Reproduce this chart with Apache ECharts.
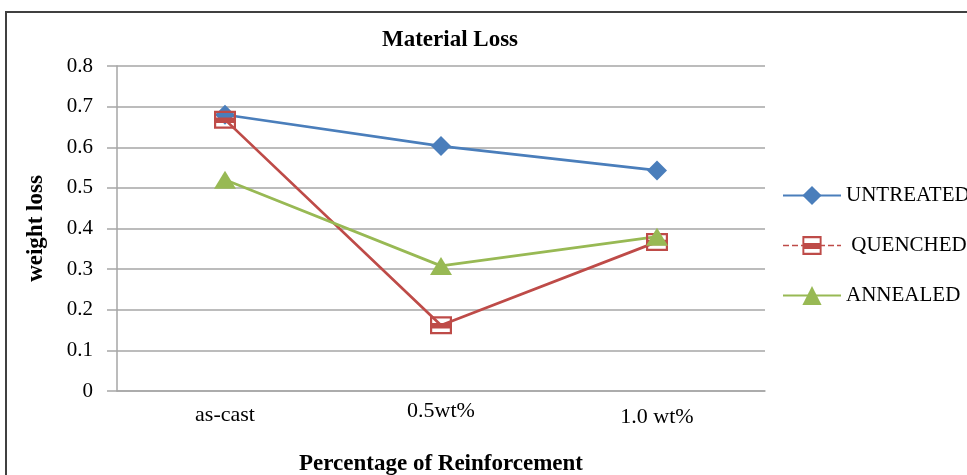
<!DOCTYPE html>
<html>
<head>
<meta charset="utf-8">
<script src="https://cdn.jsdelivr.net/npm/echarts@6/dist/echarts.min.js"></script>
<style>
html,body{margin:0;padding:0;background:#fff;}
#chart{width:967px;height:475px;}
</style>
</head>
<body>
<div id="chart"></div>
<script>
var categories = ['as-cast', '0.5wt%', '1.0 wt%'];
var untreated = [0.68, 0.603, 0.543];
var quenched = [0.668, 0.162, 0.367];
var annealed = [0.52, 0.308, 0.38];
var seriesNames = ['UNTREATED', 'QUENCHED', 'ANNEALED'];
var yTicks = { min: 0, max: 0.8, interval: 0.1 };

var FONT = '"Liberation Serif", "DejaVu Serif", serif';
var chart = echarts.init(document.getElementById('chart'));

var sqPath = 'path://M0,0H20V16H0Z M2,2V14H18V2Z M2,6H18V11H2Z';
var labelShift = [4, 0, 6];

chart.setOption({
  animation: false,
  backgroundColor: '#ffffff',
  graphic: [{
    type: 'rect',
    shape: { x: 6, y: 12, width: 1000, height: 600 },
    style: { fill: 'none', stroke: '#404040', lineWidth: 2 },
    silent: true
  }],
  title: {
    text: 'Material Loss',
    left: 445, top: 24, textAlign: 'center',
    textStyle: { fontFamily: FONT, fontSize: 23, fontWeight: 'bold', color: '#000' }
  },
  grid: { left: 117, right: 202, top: 66, bottom: 84, containLabel: false, outerBoundsMode: 'none' },
  legend: {
    orient: 'vertical',
    left: 777, top: 180,
    itemWidth: 58, itemHeight: 24, itemGap: 29,
    textStyle: { fontFamily: FONT, fontSize: 21, color: '#000' },
    formatter: function (n) { return n === 'QUENCHED' ? ' QUENCHED' : n; },
    data: [
      { name: 'UNTREATED' },
      { name: 'QUENCHED', lineStyle: { type: 'dashed', width: 1.5 } },
      { name: 'ANNEALED' }
    ]
  },
  xAxis: {
    type: 'category',
    data: categories.map(function (c, i) {
      return { value: c, textStyle: { padding: [labelShift[i], 0, 0, 0] } };
    }),
    boundaryGap: true,
    name: 'Percentage of Reinforcement',
    nameLocation: 'middle', nameGap: 62,
    nameTextStyle: { fontFamily: FONT, fontSize: 23, fontWeight: 'bold', color: '#000' },
    axisLine: { lineStyle: { color: '#a6a6a6', width: 1.5 } },
    axisTick: { show: false },
    axisLabel: { fontFamily: FONT, fontSize: 22, color: '#000', margin: 9 }
  },
  yAxis: {
    type: 'value',
    min: yTicks.min, max: yTicks.max, interval: yTicks.interval,
    name: 'weight loss',
    nameLocation: 'middle', nameGap: 69,
    nameTextStyle: { fontFamily: FONT, fontSize: 23, fontWeight: 'bold', color: '#000' },
    axisLine: { show: true, lineStyle: { color: '#a6a6a6', width: 1.5 } },
    axisTick: { show: true, length: 10, lineStyle: { color: '#a6a6a6', width: 1.5 } },
    splitLine: { lineStyle: { color: '#a6a6a6', width: 1.5 } },
    axisLabel: { fontFamily: FONT, fontSize: 21, color: '#000', margin: 24 }
  },
  series: [
    {
      name: seriesNames[0], type: 'line', data: untreated,
      symbol: 'diamond', symbolSize: 20,
      lineStyle: { color: '#4a7ebb', width: 2.75 },
      itemStyle: { color: '#4a7ebb' }
    },
    {
      name: seriesNames[1], type: 'line', data: quenched,
      symbol: sqPath, symbolSize: [22, 18],
      lineStyle: { color: '#be4b48', width: 2.75 },
      itemStyle: { color: '#be4b48' }
    },
    {
      name: seriesNames[2], type: 'line', data: annealed,
      symbol: 'triangle', symbolSize: [22, 18],
      lineStyle: { color: '#98b954', width: 2.75 },
      itemStyle: { color: '#98b954' }
    }
  ]
});
</script>
</body>
</html>
